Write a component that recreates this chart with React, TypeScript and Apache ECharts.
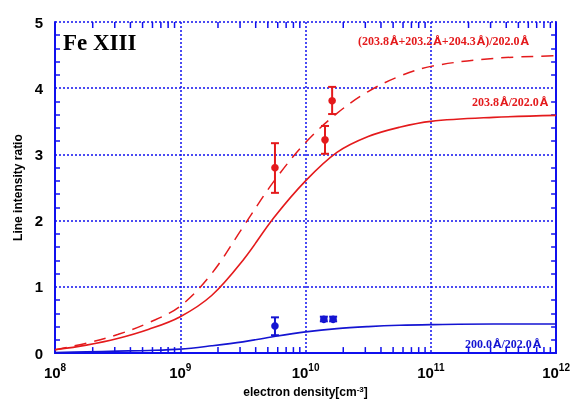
import React, { useEffect, useRef } from "react";
import * as echarts from "echarts";

// electron density sample points (cm^-3) for theoretical curves
const densities = [1e8, 1.78e8, 3.16e8, 5.62e8, 1e9, 1.78e9, 3.16e9, 5.62e9, 1e10, 1.78e10, 3.16e10, 5.62e10, 1e11, 3.16e11, 1e12];
// (203.8+203.2+204.3)/202.0 (dashed red)
const sumRatio = [0.05, 0.15, 0.28, 0.46, 0.71, 1.2, 1.9, 2.6, 3.18, 3.62, 3.95, 4.18, 4.33, 4.45, 4.49];
// 203.8/202.0 (solid red)
const ratio2038 = [0.05, 0.12, 0.22, 0.36, 0.55, 0.87, 1.4, 2.05, 2.6, 3.03, 3.27, 3.41, 3.5, 3.56, 3.59];
// 200.0/202.0 (solid blue)
const ratio2000 = [0.01, 0.02, 0.03, 0.04, 0.06, 0.11, 0.17, 0.25, 0.32, 0.37, 0.4, 0.42, 0.43, 0.44, 0.44];

// observed points: [density, value, low, high]
const redObs = [
  [5.7e9, 2.8, 2.42, 3.17],
  [1.43e10, 3.22, 3.01, 3.43],
  [1.63e10, 3.81, 3.61, 4.02],
];
const blueObs = [
  [5.7e9, 0.41, 0.27, 0.54],
  [1.4e10, 0.51, 0.48, 0.55],
  [1.66e10, 0.51, 0.48, 0.55],
];

const decades = [1e8, 1e9, 1e10, 1e11];
const minorMultipliers = [2, 3, 4, 5, 6, 7, 8, 9];

const RED = "#e41a1c";
const BLUE = "#1414d2";
const AXIS = "#1010ee";

export default function App() {
  const ref = useRef<HTMLDivElement>(null);
  useEffect(() => {
    if (!ref.current) return;
    const chart = echarts.init(ref.current, null, { renderer: "svg" });

    const minorTicks: number[][] = [];
    decades.forEach((d) => minorMultipliers.forEach((m) => minorTicks.push([d * m, 0])));

    const errRender = (color: string) => (params: any, api: any) => {
      const x = api.value(0);
      const p = api.coord([x, api.value(1)]);
      const pl = api.coord([x, api.value(2)]);
      const ph = api.coord([x, api.value(3)]);
      const cw = 4;
      return {
        type: "group",
        children: [
          { type: "line", shape: { x1: p[0], y1: pl[1], x2: p[0], y2: ph[1] }, style: { stroke: color, lineWidth: 2 } },
          { type: "line", shape: { x1: p[0] - cw, y1: pl[1], x2: p[0] + cw, y2: pl[1] }, style: { stroke: color, lineWidth: 2 } },
          { type: "line", shape: { x1: p[0] - cw, y1: ph[1], x2: p[0] + cw, y2: ph[1] }, style: { stroke: color, lineWidth: 2 } },
          { type: "circle", shape: { cx: p[0], cy: p[1], r: 3.8 }, style: { fill: color } },
        ],
      };
    };

    const tickRender = (params: any, api: any) => {
      const x = api.coord([api.value(0), 0])[0];
      const yb = api.coord([api.value(0), 0])[1];
      const yt = api.coord([api.value(0), 5])[1];
      const len = 6;
      return {
        type: "group",
        children: [
          { type: "line", shape: { x1: x, y1: yb, x2: x, y2: yb - len }, style: { stroke: AXIS, lineWidth: 1.5 } },
          { type: "line", shape: { x1: x, y1: yt, x2: x, y2: yt + len }, style: { stroke: AXIS, lineWidth: 1.5 } },
        ],
      };
    };

    const labelFont = "'Liberation Sans', Arial, sans-serif";
    const serif = "'Liberation Serif', 'Times New Roman', serif";

    const labelRich = (color: string) => ({
      d: { fontSize: 12, fontWeight: "bold", fontFamily: serif, fill: color },
      a: { fontSize: 11, fontWeight: "bold", fontFamily: "'DejaVu Sans', sans-serif", fill: color, padding: [0, 0, 0, 1] },
    });

    chart.setOption({
      animation: false,
      grid: { left: 55, top: 22, width: 503, height: 338 },
      xAxis: [
        {
          type: "log",
          logBase: 10,
          min: 1e8,
          max: 1e12,
          position: "bottom",
          axisLine: { show: true, lineStyle: { color: AXIS, width: 2 } },
          axisTick: { show: false },
          splitLine: { show: true, lineStyle: { color: AXIS, type: [2, 2], width: 1.5 } },
          axisLabel: {
            margin: 9,
            formatter: (v: number) => `{b|10}{s|${Math.round(Math.log10(v))}}`,
            rich: {
              b: { fontSize: 15, fontWeight: "bold", fontFamily: labelFont, color: "#000", lineHeight: 18, verticalAlign: "bottom" },
              s: { fontSize: 10, fontWeight: "bold", fontFamily: labelFont, color: "#000", lineHeight: 18, verticalAlign: "top" },
            },
          },
          name: "electron density[cm{s|-3}]",
          nameLocation: "middle",
          nameGap: 31,
          nameTextStyle: {
            fontSize: 12,
            fontWeight: "bold",
            fontFamily: labelFont,
            color: "#000",
            rich: {
              s: { fontSize: 8, fontWeight: "bold", fontFamily: labelFont, color: "#000", verticalAlign: "top", lineHeight: 14 },
            },
          },
        },
        {
          type: "log",
          logBase: 10,
          min: 1e8,
          max: 1e12,
          position: "top",
          axisLine: { show: true, lineStyle: { color: AXIS, width: 2 } },
          axisTick: { show: false },
          axisLabel: { show: false },
          splitLine: { show: false },
        },
      ],
      yAxis: [
        {
          type: "value",
          min: 0,
          max: 5,
          interval: 1,
          position: "left",
          axisLine: { show: true, lineStyle: { color: AXIS, width: 2 } },
          axisTick: { show: false, inside: true },
          minorTick: { show: true, splitNumber: 5, length: 5, lineStyle: { color: AXIS, width: 1.5 } },
          splitLine: { show: true, lineStyle: { color: AXIS, type: [2, 2], width: 1.5 } },
          axisLabel: { fontSize: 15, fontWeight: "bold", fontFamily: labelFont, color: "#000", margin: 12 },
          name: "Line intensity ratio",
          nameLocation: "middle",
          nameGap: 28,
          nameTextStyle: { fontSize: 12, fontWeight: "bold", fontFamily: labelFont, color: "#000" },
        },
        {
          type: "value",
          min: 0,
          max: 5,
          interval: 1,
          position: "right",
          axisLine: { show: true, lineStyle: { color: AXIS, width: 2 } },
          axisTick: { show: false, inside: true },
          minorTick: { show: true, splitNumber: 5, length: 5, lineStyle: { color: AXIS, width: 1.5 } },
          splitLine: { show: false },
          axisLabel: { show: false },
        },
      ],
      series: [
        {
          type: "custom",
          xAxisIndex: 0,
          yAxisIndex: 0,
          data: minorTicks,
          renderItem: tickRender,
          silent: true,
          clip: false,
        },
        {
          type: "line",
          data: densities.map((d, i) => [d, sumRatio[i]]),
          smooth: 0.35,
          showSymbol: false,
          lineStyle: { color: RED, width: 1.5, type: [12, 8] },
        },
        {
          type: "line",
          data: densities.map((d, i) => [d, ratio2038[i]]),
          smooth: 0.35,
          showSymbol: false,
          lineStyle: { color: RED, width: 1.6 },
        },
        {
          type: "line",
          data: densities.map((d, i) => [d, ratio2000[i]]),
          smooth: 0.35,
          showSymbol: false,
          lineStyle: { color: BLUE, width: 1.6 },
        },
        { type: "custom", data: redObs, renderItem: errRender(RED), clip: false },
        { type: "custom", data: blueObs, renderItem: errRender(BLUE), clip: false },
      ],
      graphic: [
        {
          type: "text",
          left: 63,
          top: 31,
          style: { text: "Fe XIII", font: `bold 23px ${serif}`, fill: "#000" },
        },
        {
          type: "text",
          left: 358,
          top: 35,
          style: {
            text: "{d|(203.8}{a|Å}{d|+203.2}{a|Å}{d|+204.3}{a|Å}{d|)/202.0}{a|Å}",
            rich: labelRich(RED),
          },
        },
        {
          type: "text",
          left: 472,
          top: 96,
          style: { text: "{d|203.8}{a|Å}{d|/202.0}{a|Å}", rich: labelRich(RED) },
        },
        {
          type: "text",
          left: 465,
          top: 338,
          style: { text: "{d|200.0}{a|Å}{d|/202.0}{a|Å}", rich: labelRich(BLUE) },
        },
      ],
    });
    return () => chart.dispose();
  }, []);
  return <div ref={ref} style={{ position: "fixed", left: 0, top: 0, width: 573, height: 403 }} />;
}
